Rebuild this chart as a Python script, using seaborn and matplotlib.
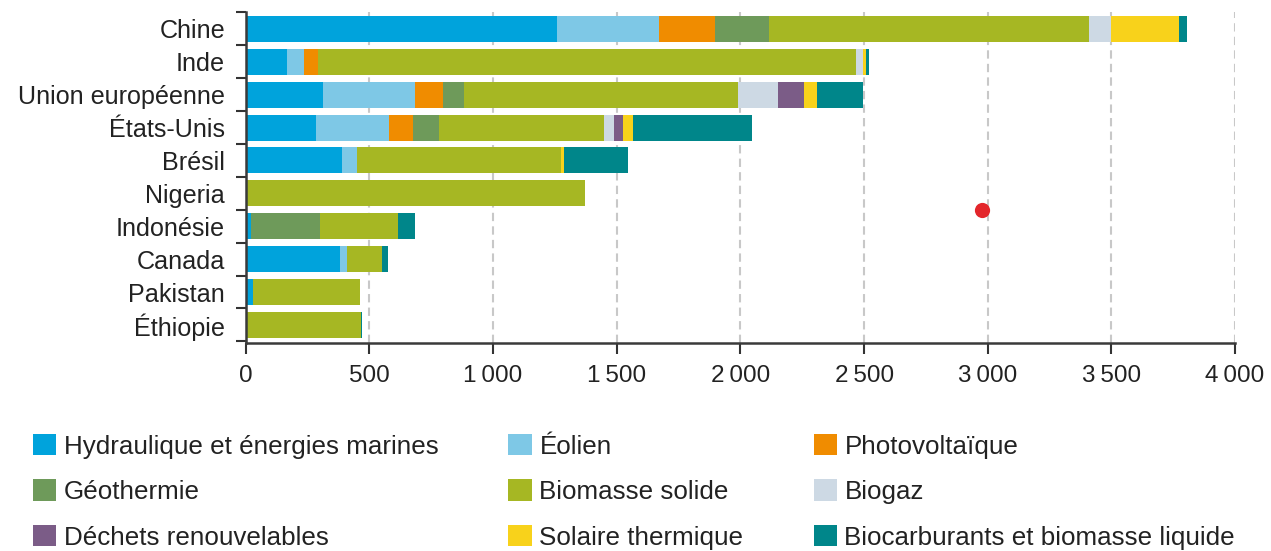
import numpy as np
import pandas as pd
import matplotlib
matplotlib.use("Agg")
import matplotlib.pyplot as plt
from matplotlib.patches import Patch
from matplotlib.ticker import FixedLocator, FuncFormatter
import seaborn as sns

# Data
countries = ["Chine", "Inde", "Union européenne", "États-Unis", "Brésil",
             "Nigeria", "Indonésie", "Canada", "Pakistan", "Éthiopie"]
sources = ["Hydraulique et énergies marines", "Éolien", "Photovoltaïque",
           "Géothermie", "Biomasse solide", "Biogaz",
           "Déchets renouvelables", "Solaire thermique",
           "Biocarburants et biomasse liquide"]
colors = ["#00a3dc", "#7ec8e6", "#f08c00", "#6e9a5a", "#a6b723",
          "#cdd9e4", "#7b5c87", "#f8d21b", "#00868a"]

hydro = [1260, 168, 312, 285, 389, 0, 20, 379, 30, 6]
eolien = [411, 67, 373, 296, 60, 0, 0, 31, 0, 0]
pv = [228, 57, 114, 97, 0, 0, 0, 0, 0, 0]
geo = [218, 0, 82, 102, 0, 0, 279, 0, 0, 0]
biomasse = [1292, 2175, 1109, 669, 825, 1371, 316, 142, 430, 459]
biogaz = [91, 30, 161, 40, 0, 0, 0, 0, 0, 0]
dechets = [0, 0, 105, 36, 0, 0, 0, 0, 0, 0]
solaire_th = [273, 10, 54, 41, 13, 0, 0, 0, 0, 0]
biocarb = [34, 14, 184, 481, 260, 0, 70, 23, 0, 3]

# stray red marker seen in the reference
dot_x = [2975]
dot_y = [5.51]

xticks = [0, 500, 1000, 1500, 2000, 2500, 3000, 3500, 4000]

series = [hydro, eolien, pv, geo, biomasse, biogaz, dechets, solaire_th, biocarb]
df = pd.DataFrame(dict(zip(sources, series)), index=countries)
cum = df.cumsum(axis=1)

sns.set_style("white")
plt.rcParams['font.family'] = ['Liberation Sans', 'DejaVu Sans']
text_color = "#222222"

fig = plt.figure(figsize=(12.71, 5.51), dpi=100)
ax = fig.add_axes([0.1934, 0.378, 0.9717 - 0.1934, 0.9788 - 0.378])

# stacked bars: draw cumulative totals from the longest to the shortest
for k in reversed(range(len(sources))):
    layer = pd.DataFrame({"pays": countries, "valeur": cum[sources[k]].values})
    sns.barplot(data=layer, x="valeur", y="pays", order=countries, orient="h",
                color=colors[k], saturation=1, width=0.79, linewidth=0, ax=ax)

ax.scatter(dot_x, dot_y, s=120, color="#e3262b", zorder=5, linewidths=0)

ax.set_xlim(0, 4000)
ax.set_ylim(9.54, -0.52)
ax.set_xlabel("")
ax.set_ylabel("")

ax.xaxis.set_major_locator(FixedLocator(xticks))
ax.xaxis.set_major_formatter(FuncFormatter(lambda v, p: f"{int(v):,}".replace(",", "\u2009")))
ax.grid(axis="x", color="#c8c8c8", linewidth=1.5, linestyle=(0, (4, 2.5)))
ax.set_axisbelow(True)

ax.yaxis.set_minor_locator(FixedLocator(np.arange(-0.5, 10, 1)))
ax.tick_params(axis="y", which="major", length=0, pad=15, labelsize=18.1, labelcolor=text_color)
ax.tick_params(axis="y", which="minor", length=7, width=1.5, color="#333333", left=True)
ax.tick_params(axis="x", which="major", length=8, width=1.5, color="#333333", pad=8,
               labelsize=17.5, labelcolor=text_color, bottom=True)

for side in ["top", "right"]:
    ax.spines[side].set_visible(False)
for side in ["left", "bottom"]:
    ax.spines[side].set_color("#3a3a3a")
    ax.spines[side].set_linewidth(1.8)

# legend laid out row by row like the reference
handles = [Patch(facecolor=c, edgecolor="none", label=s) for s, c in zip(sources, colors)]
order = [0, 3, 6, 1, 4, 7, 2, 5, 8]
fig.legend(handles=[handles[i] for i in order], ncol=3, loc="upper left",
           bbox_to_anchor=(32.7 / 1271, 1 - 434 / 551), frameon=False,
           fontsize=18.7, handlelength=0.89, handleheight=0.89, handletextpad=0.3,
           columnspacing=2.7, labelspacing=0.8, borderpad=0, borderaxespad=0,
           labelcolor=text_color)

fig.savefig("out.png", dpi=100)
plt.close()
